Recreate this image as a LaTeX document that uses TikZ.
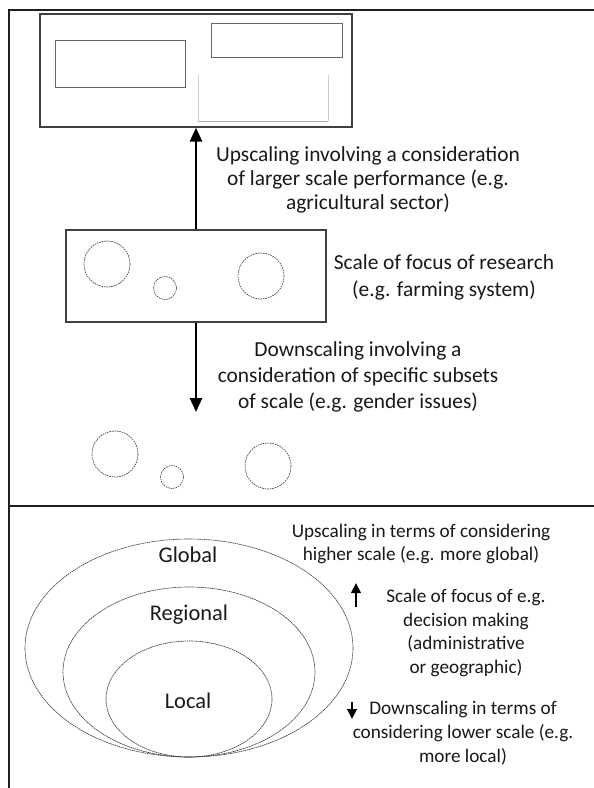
\documentclass[tikz,border=0pt]{standalone}
\usepackage{fontspec}
\setmainfont{Carlito}
\usetikzlibrary{arrows.meta,shapes.geometric}

\begin{document}
\begin{tikzpicture}[x=1bp,y=-1bp,
  frameline/.style={line width=2.8bp, draw=black!88},
  outerbox/.style={draw=black!75, line width=1.1bp, inner sep=0pt},
  innerbox/.style={draw=black!60, line width=1bp, inner sep=0pt},
  bigarrow/.style={line width=2.6bp, -{Triangle[width=12bp,length=14bp]}},
  smallarrow/.style={line width=2.4bp, -{Triangle[width=9.5bp,length=10bp]}},
  dotcircle/.style={circle, draw=black!75, dash pattern=on 1.6bp off 0.9bp, line width=0.65bp, inner sep=0pt},
  scaleoval/.style={ellipse, draw=black!75, dash pattern=on 1.6bp off 0.6bp, line width=0.65bp, inner sep=0pt},
  toptext/.style={align=center, text=black!90, font=\fontsize{21.5}{24}\selectfont},
  bottext/.style={align=center, text=black!90, font=\fontsize{19.3}{24}\selectfont},
  levellabel/.style={text=black!90, font=\fontsize{22.5}{26}\selectfont}
]
\useasboundingbox (0,0) rectangle (594,788);

% frame and divider
\draw[frameline] (594,10) -- (9,10) -- (9,788);
\draw[frameline] (9,506) -- (594,506);

% larger scale: sector box with its parts
\node[outerbox, minimum width=312bp, minimum height=113bp] (sector) at (196,70.5) {};
\node[innerbox, minimum width=130bp, minimum height=46bp] (partA) at (120,64) {};
\node[innerbox, minimum width=131bp, minimum height=34bp] (partB) at (276.5,40.5) {};
\draw[gray!40, line width=1bp] (198,75) -- (198,121);
\draw[gray!40, line width=1bp] (328,75) -- (328,121);
\draw[gray!65, line width=1bp] (198,121) -- (328,121);

% scale of focus: farming system
\node[outerbox, minimum width=260bp, minimum height=92bp] (farm) at (196,276) {};
\node[dotcircle, minimum size=46bp] (farmA) at (107,264) {};
\node[dotcircle, minimum size=23bp] (farmB) at (165,288) {};
\node[dotcircle, minimum size=46bp] (farmC) at (261,276) {};

% subsets of scale
\node[dotcircle, minimum size=46bp] (subA) at (115,454) {};
\node[dotcircle, minimum size=23bp] (subB) at (172,477) {};
\node[dotcircle, minimum size=46bp] (subC) at (268,466) {};

% scaling arrows
\coordinate (downtip) at (196,412);
\draw[bigarrow] (farm.north) -- (sector.south);
\draw[bigarrow] (farm.south) -- (downtip);

\node[toptext] (uptext) at (368,180) {Upscaling involving a consideration\\of larger scale performance (e.g.\\agricultural sector)};
\node[toptext, font=\fontsize{21.5}{27}\selectfont] (focustext) at (444,277) {Scale of focus of research\\(e.g. farming system)};
\node[toptext, font=\fontsize{21.5}{26}\selectfont] (downtext) at (358,377) {Downscaling involving a\\consideration of specific subsets\\of scale (e.g. gender issues)};

% nested levels
\node[scaleoval, minimum width=328bp, minimum height=218bp] (global) at (189,648) {};
\node[scaleoval, minimum width=252bp, minimum height=170bp] (regional) at (189,672) {};
\node[scaleoval, minimum width=166bp, minimum height=116bp] (local) at (189,699) {};
\node[levellabel] (globallabel) at (188,555) {Global};
\node[levellabel] (regionallabel) at (189,615) {Regional};
\node[levellabel] (locallabel) at (188,701) {Local};

\node[bottext] (upnote) at (421,544) {Upscaling in terms of considering\\higher scale (e.g. more global)};
\node[bottext] (focusnote) at (466,633) {Scale of focus of e.g.\\decision making\\(administrative\\or geographic)};
\node[bottext] (downnote) at (463,733) {Downscaling in terms of\\considering lower scale (e.g.\\more local)};

\coordinate (upbase) at (356,607);
\coordinate (uptip) at (356,583);
\coordinate (downbase) at (352,702);
\coordinate (downend) at (352,719);
\draw[smallarrow] (upbase) -- (uptip);
\draw[smallarrow] (downbase) -- (downend);
\end{tikzpicture}
\end{document}
